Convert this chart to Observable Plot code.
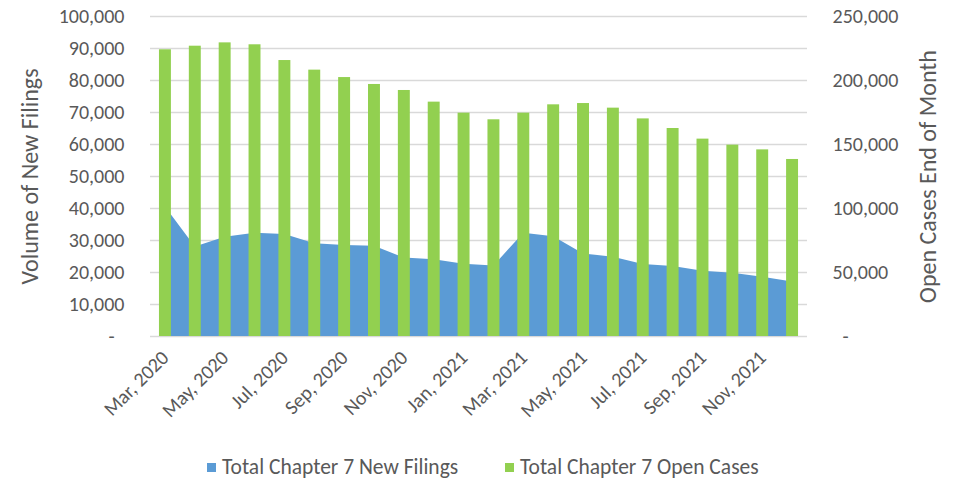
<!DOCTYPE html>
<html>
<head>
<meta charset="utf-8">
<script src="https://cdn.jsdelivr.net/npm/d3@7"></script>
<script src="https://cdn.jsdelivr.net/npm/@observablehq/plot@0.6"></script>
<style>
  body { margin: 0; background: #fff; font-family: Carlito, Calibri, "Liberation Sans", Arial, sans-serif; }
  #wrap { position: relative; width: 953px; height: 479px; }
  #legend { position: absolute; left: 0; top: 445px; width: 953px; height: 34px; color: #595959; font-size: 21.5px; }
  .item { position: absolute; top: 9px; display: flex; align-items: center; white-space: nowrap; }
  .sw { width: 9px; height: 9px; margin-right: 6px; }
</style>
</head>
<body>
<div id="wrap">
  <div id="chart"></div>
  <div id="legend"></div>
</div>
<script>
const months = ["Mar, 2020","Apr, 2020","May, 2020","Jun, 2020","Jul, 2020","Aug, 2020","Sep, 2020","Oct, 2020","Nov, 2020","Dec, 2020",
                "Jan, 2021","Feb, 2021","Mar, 2021","Apr, 2021","May, 2021","Jun, 2021","Jul, 2021","Aug, 2021","Sep, 2021","Oct, 2021","Nov, 2021","Dec, 2021"];
const newFilings = [40500, 28000, 31000, 32300, 31900, 29000, 28400, 28200, 24500, 24000,
                    22600, 22000, 32300, 31200, 25800, 24800, 22500, 21900, 20400, 19800, 18500, 17000];
const openCases = [224000, 226800, 229400, 227900, 215600, 208100, 202300, 196900, 192200, 183100,
                   174500, 169300, 174500, 181000, 182000, 178400, 170000, 162500, 154200, 149500, 145800, 138300];
const leftTicks = [0, 10000, 20000, 30000, 40000, 50000, 60000, 70000, 80000, 90000, 100000];
const rightTicks = [0, 50000, 100000, 150000, 200000, 250000];
const xTickLabels = ["Mar, 2020","May, 2020","Jul, 2020","Sep, 2020","Nov, 2020","Jan, 2021","Mar, 2021","May, 2021","Jul, 2021","Sep, 2021","Nov, 2021"];
const seriesNames = ["Total Chapter 7 New Filings", "Total Chapter 7 Open Cases"];
const seriesColors = ["#5b9bd5", "#92d050"];
const leftTitle = "Volume of New Filings";
const rightTitle = "Open Cases End of Month";

const leftMax = 100000, rightMax = 250000;
const ratio = leftMax / rightMax;
const barHalf = 0.2;
const data = months.map((m, i) => ({i, month: m, filings: newFilings[i], open: openCases[i]}));
const fmt = d3.format(",");
const font = 'Carlito, Calibri, "Liberation Sans", Arial, sans-serif';

const chart = Plot.plot({
  width: 953,
  height: 445,
  marginTop: 16,
  marginBottom: 109,
  marginLeft: 150,
  marginRight: 146,
  style: {fontFamily: font, fontSize: "20px", color: "#595959", background: "white"},
  x: {type: "linear", domain: [-0.5, months.length - 0.5], axis: null},
  y: {domain: [0, leftMax], axis: null},
  marks: [
    Plot.gridY(leftTicks, {stroke: "#d9d9d9", strokeOpacity: 1, strokeWidth: 1.5}),
    Plot.areaY(data, {x: "i", y: "filings", fill: seriesColors[0], curve: "linear"}),
    Plot.rectY(data, {x1: d => d.i - barHalf, x2: d => d.i + barHalf, y1: 0, y2: d => d.open * ratio, fill: seriesColors[1]}),
    Plot.axisY(leftTicks, {anchor: "left", tickSize: 0, tickPadding: 26, label: null, fontSize: 20,
      tickFormat: d => d === 0 ? "-\u2002" : fmt(d)}),
    Plot.axisY(rightTicks.map(v => v * ratio), {anchor: "right", tickSize: 0, tickPadding: 25, label: null, fontSize: 20,
      tickFormat: d => d === 0 ? "\u2002-" : fmt(Math.round(d / ratio))}),
    Plot.axisX(xTickLabels.map(l => months.indexOf(l)), {anchor: "bottom", tickRotate: -45, tickSize: 0, tickPadding: 18, label: null, fontSize: 20,
      tickFormat: i => months[i]}),
    Plot.text([leftTitle], {frameAnchor: "left", text: d => d, rotate: -90, dx: -120, textAnchor: "middle", fontSize: 24, fill: "#595959"}),
    Plot.text([rightTitle], {frameAnchor: "right", text: d => d, rotate: -90, dx: 121, textAnchor: "middle", fontSize: 24, fill: "#595959"})
  ]
});
document.getElementById("chart").appendChild(chart);

const legend = document.getElementById("legend");
const legendLeft = [207, 505];
seriesNames.forEach((name, i) => {
  const item = document.createElement("div");
  item.className = "item";
  item.style.left = legendLeft[i] + "px";
  const sw = document.createElement("span");
  sw.className = "sw";
  sw.style.background = seriesColors[i];
  const t = document.createElement("span");
  t.textContent = name;
  item.appendChild(sw);
  item.appendChild(t);
  legend.appendChild(item);
});
</script>
</body>
</html>
